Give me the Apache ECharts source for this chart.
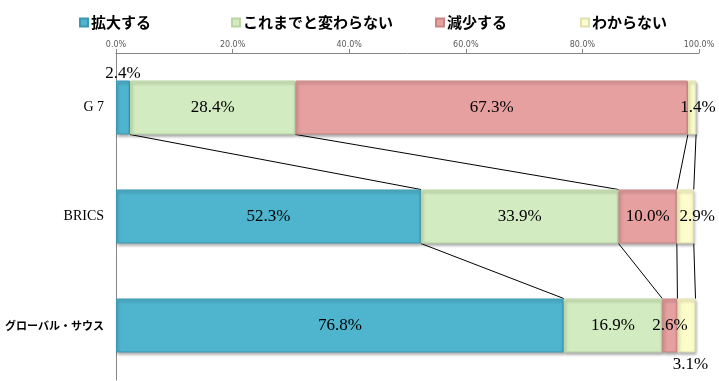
<!DOCTYPE html>
<html><head><meta charset="utf-8">
<script src="https://cdn.jsdelivr.net/npm/echarts@6/dist/echarts.min.js"></script>
<style>html,body{margin:0;padding:0;background:#fff}#c{width:719px;height:381px}</style>
</head><body><div id="c"></div>
<script>
const categories = ['G7', 'BRICS', 'グローバル・サウス'];
const seriesNames = ['拡大する', 'これまでと変わらない', '減少する', 'わからない'];
const expand = [2.4, 52.3, 76.8];
const unchanged = [28.4, 33.9, 16.9];
const reduce = [67.3, 10.0, 2.6];
const unknown = [1.4, 2.9, 3.1];
const xTicks = [0, 20, 40, 60, 80, 100];

const values = [expand, unchanged, reduce, unknown];
const colors = ['#4FB5CF', '#D3EBC0', '#E5A09F', '#FDFDCB'];
const borders = ['#3C98B0', '#B9D6A4', '#C98584', '#E0E0B0'];
const labelPos = [
  ['top', 'inside', 'inside'],
  ['inside', 'inside', 'inside'],
  ['inside', 'inside', 'inside'],
  ['inside', 'inside', 'bottom']
];
const labelOffset = [
  [[0, 0], [0, 0], [0, 0]],
  [[0, 0], [0, 0], [0, 0]],
  [[0, 0], [0, 0], [0, 0]],
  [[6, 0], [12, 0], [4, 0]]
];

const cum = categories.map((c, i) => {
  let s = 0; const arr = [];
  values.forEach(v => { s += v[i]; arr.push(s); });
  return arr;
});
const connectors = [];
for (let i = 0; i < categories.length - 1; i++) {
  for (let k = 0; k < values.length; k++) {
    connectors.push([cum[i][k], i, cum[i + 1][k], i + 1]);
  }
}

const BAR_W = 54;
const serif = '"Liberation Serif", "DejaVu Serif", serif';
const gothic = '"Noto Sans CJK JP", sans-serif';

const series = values.map((v, si) => ({
  name: seriesNames[si],
  type: 'bar',
  stack: 'total',
  barWidth: BAR_W,
  itemStyle: {
    color: colors[si], borderColor: borders[si], borderWidth: 1,
    shadowColor: 'rgba(0,0,0,0.35)', shadowBlur: 3, shadowOffsetY: 2, shadowOffsetX: 1
  },
  label: { show: true, color: '#000', fontFamily: serif, fontSize: 17,
    formatter: p => p.value.toFixed(1) + '%' },
  data: v.map((val, ci) => ({
    value: val,
    label: { position: labelPos[si][ci], offset: labelOffset[si][ci],
      distance: labelPos[si][ci] === 'top' ? -2 : 4 }
  })),
  z: 3
}));

series.push({
  type: 'custom',
  name: 'conn',
  silent: true,
  z: 2,
  encode: { x: [0, 2], y: [1, 3] },
  data: connectors,
  renderItem: (params, api) => {
    const p1 = api.coord([api.value(0), api.value(1)]);
    const p2 = api.coord([api.value(2), api.value(3)]);
    const h = BAR_W / 2;
    return {
      type: 'line',
      shape: { x1: p1[0], y1: p1[1] + h, x2: p2[0], y2: p2[1] - h },
      style: { stroke: '#000', lineWidth: 1 }
    };
  }
});

const legendLefts = [74, 226, 430, 575];
const legends = seriesNames.map((n, i) => ({
  data: [n], left: legendLefts[i], top: 10,
  itemWidth: 8, itemHeight: 8, itemGap: 4,
  icon: 'rect',
  textStyle: { fontFamily: gothic, fontWeight: 'bold', fontSize: 15, color: '#000', padding: [0, 0, 0, -2] }
}));

const chart = echarts.init(document.getElementById('c'));
chart.setOption({
  animation: false,
  legend: legends,
  grid: { left: 116, right: 20, top: 53, bottom: 1, containLabel: false, outerBoundsMode: 'none' },
  xAxis: {
    type: 'value', position: 'top', min: xTicks[0], max: xTicks[xTicks.length - 1], interval: 20,
    axisLine: { show: true, lineStyle: { color: '#868686' } },
    axisTick: { show: true, length: 4, lineStyle: { color: '#868686' } },
    splitLine: { show: false },
    axisLabel: { fontSize: 8, color: '#595959', margin: 4, fontFamily: '"DejaVu Sans", sans-serif',
      formatter: v => v.toFixed(1) + '%' }
  },
  yAxis: {
    type: 'category', inverse: true, data: categories,
    axisLine: { show: true, lineStyle: { color: '#868686' } },
    axisTick: { show: false },
    axisLabel: {
      margin: 12,
      formatter: (v) => v === 'G7' ? '{s|G 7}' : (v === 'BRICS' ? '{s|BRICS}' : '{g|' + v + '}'),
      rich: {
        s: { fontFamily: serif, fontSize: 14, color: '#000' },
        g: { fontFamily: gothic, fontWeight: 'bold', fontSize: 11, color: '#000' }
      }
    }
  },
  series: series
});
</script>
</body></html>
